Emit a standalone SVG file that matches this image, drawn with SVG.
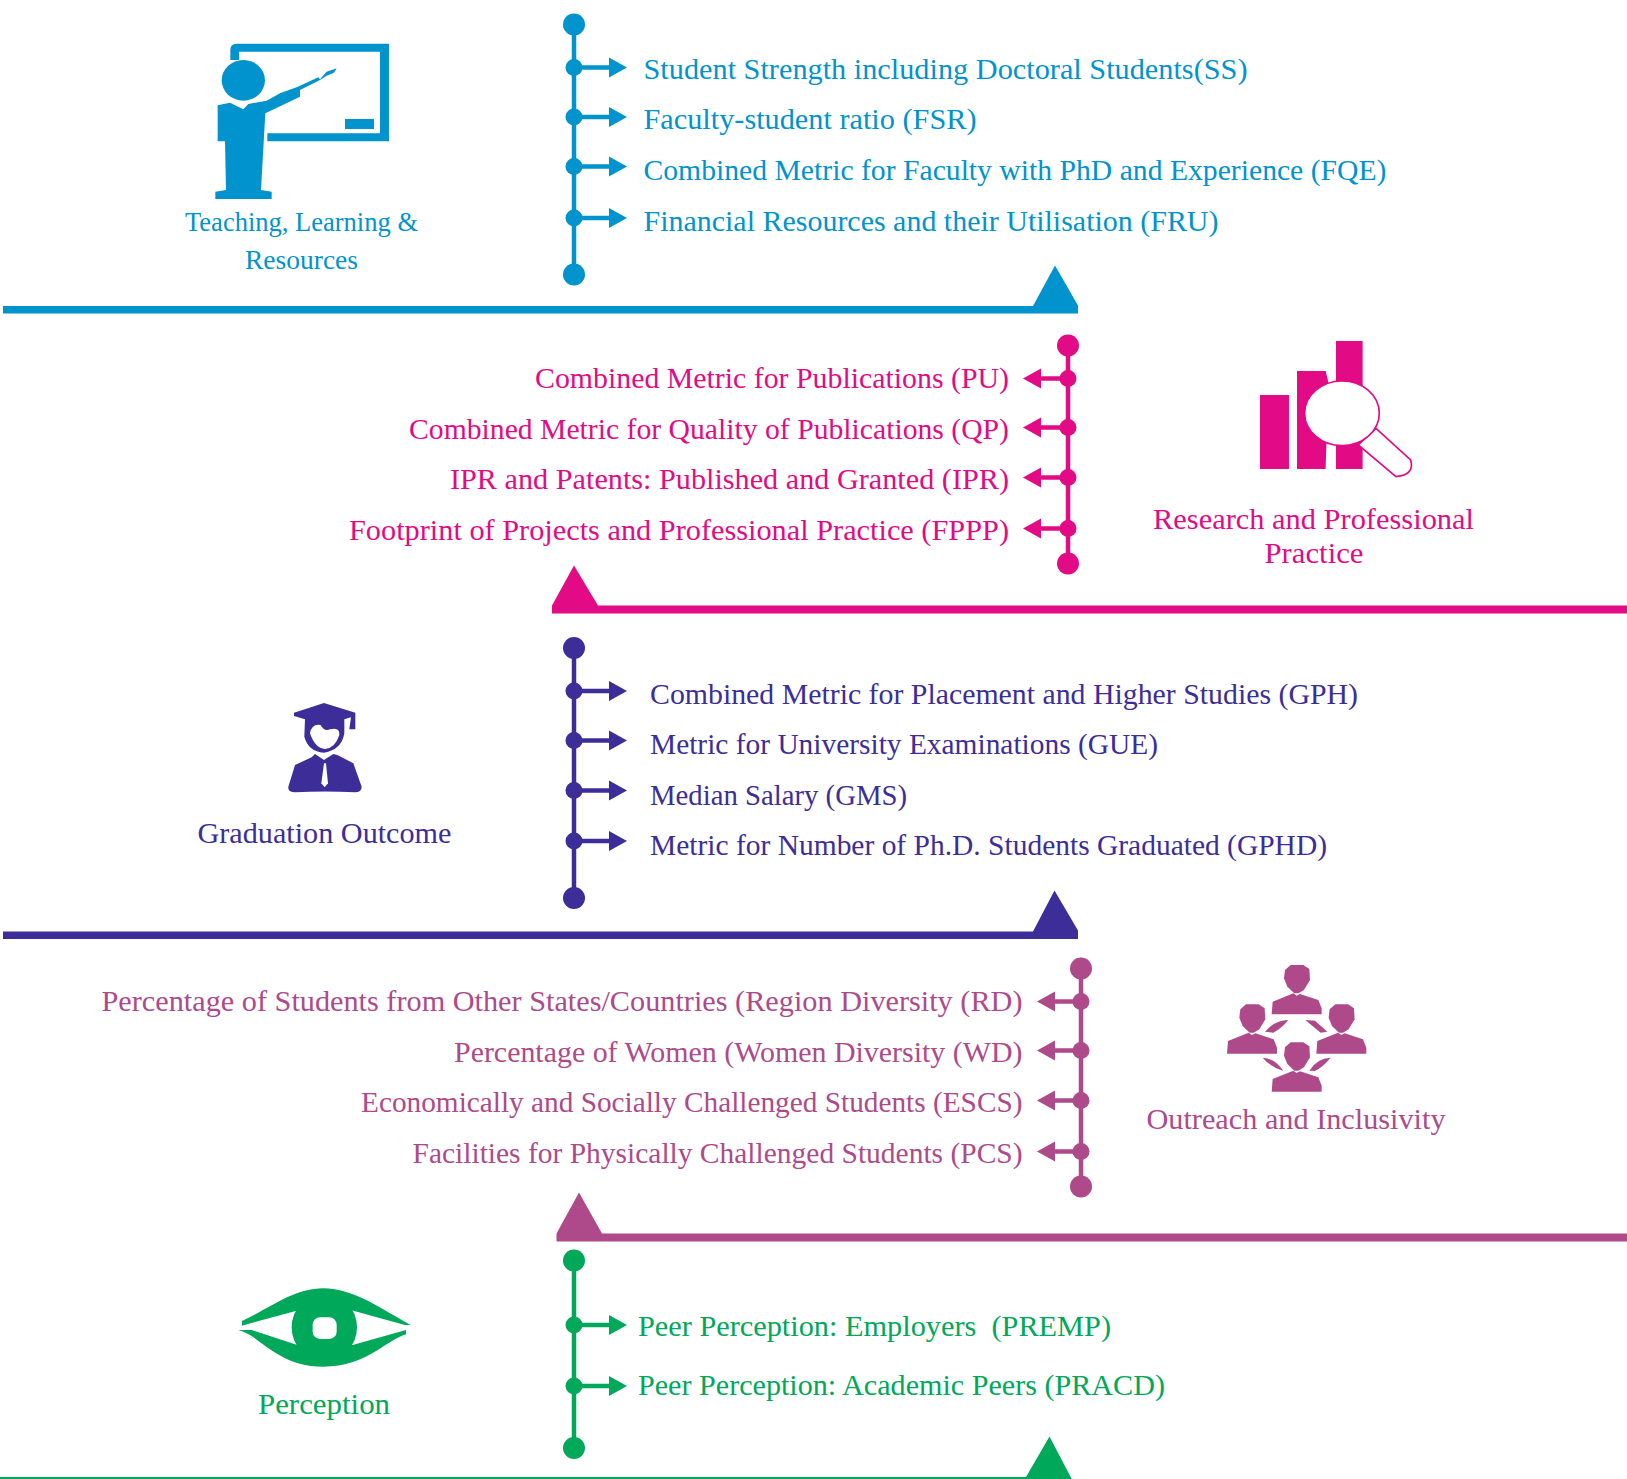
<svg xmlns="http://www.w3.org/2000/svg" xmlns:xlink="http://www.w3.org/1999/xlink" width="1627" height="1479" viewBox="0 0 1627 1479">
<style>
text{font-family:"Liberation Serif","Times New Roman",serif;font-size:29px;}
.lbl{font-size:27px;text-anchor:middle;}
.big{font-size:29px;}
.e{text-anchor:end;}
.blue{fill:#0093CE;stroke:#0093CE;}
.pink{fill:#E20B85;stroke:#E20B85;}
.purple{fill:#3C2D99;stroke:#3C2D99;}
.mauve{fill:#AE4A8A;stroke:#AE4A8A;}
.green{fill:#00A859;stroke:#00A859;}
g.blue *,g.pink *,g.purple *,g.mauve *,g.green *{stroke-width:0;}
line{stroke-width:4.5px !important;}
.w{fill:#fff;}
.ws{fill:#fff;stroke:#E20B85;stroke-width:5px !important;}
</style>
<defs>
<path id="ar" d="M0-10L18 0L0 10Z"/>
<path id="al" d="M0-10L-18 0L0 10Z"/>
<g id="person">
<path d="M272 60L310 60L328 72L330 105L312 135L295 145L283 145L262 125L252 100L255 75Z"/>
<path d="M215 208L218 170L280 145L290 152L300 147L355 165L365 190L365 208Z"/>
</g>
</defs>

<g id="connectors" transform="translate(0 .5)">
<g class="blue">
<line x1="574" y1="24" x2="574" y2="274"/>
<circle cx="574" cy="24" r="11"/><circle cx="574" cy="274" r="11"/>
<circle cx="574" cy="67" r="8.5"/><line x1="574" y1="67" x2="612" y2="67"/><use href="#ar" x="609" y="67"/>
<circle cx="574" cy="116.5" r="8.5"/><line x1="574" y1="116.5" x2="612" y2="116.5"/><use href="#ar" x="609" y="116.5"/>
<circle cx="574" cy="166" r="8.5"/><line x1="574" y1="166" x2="612" y2="166"/><use href="#ar" x="609" y="166"/>
<circle cx="574" cy="217.5" r="8.5"/><line x1="574" y1="217.5" x2="612" y2="217.5"/><use href="#ar" x="609" y="217.5"/>
<path d="M3 305.500H1033L1055 265L1078 305V313H3Z"/>
</g>
<g class="pink">
<line x1="1068" y1="345" x2="1068" y2="563"/>
<circle cx="1068" cy="345" r="11"/><circle cx="1068" cy="563" r="11"/>
<circle cx="1068" cy="378" r="8.5"/><line x1="1068" y1="378" x2="1038" y2="378"/><use href="#al" x="1041" y="378"/>
<circle cx="1068" cy="427" r="8.5"/><line x1="1068" y1="427" x2="1038" y2="427"/><use href="#al" x="1041" y="427"/>
<circle cx="1068" cy="477" r="8.5"/><line x1="1068" y1="477" x2="1038" y2="477"/><use href="#al" x="1041" y="477"/>
<circle cx="1068" cy="528" r="8.5"/><line x1="1068" y1="528" x2="1038" y2="528"/><use href="#al" x="1041" y="528"/>
<path d="M1627 605H598L574 565L552 605V613H1627Z"/>
</g>
<g class="purple">
<line x1="574" y1="647.5" x2="574" y2="897.5"/>
<circle cx="574" cy="647.5" r="11"/><circle cx="574" cy="897.5" r="11"/>
<circle cx="574" cy="690.5" r="8.5"/><line x1="574" y1="690.5" x2="612" y2="690.5"/><use href="#ar" x="609" y="690.5"/>
<circle cx="574" cy="740" r="8.5"/><line x1="574" y1="740" x2="612" y2="740"/><use href="#ar" x="609" y="740"/>
<circle cx="574" cy="790" r="8.5"/><line x1="574" y1="790" x2="612" y2="790"/><use href="#ar" x="609" y="790"/>
<circle cx="574" cy="840.5" r="8.5"/><line x1="574" y1="840.5" x2="612" y2="840.5"/><use href="#ar" x="609" y="840.5"/>
<path d="M3 931H1033L1054.500 890L1078 930V938.500H3Z"/>
</g>
<g class="mauve">
<line x1="1081" y1="968" x2="1081" y2="1186"/>
<circle cx="1081" cy="968" r="11"/><circle cx="1081" cy="1186" r="11"/>
<circle cx="1081" cy="1001" r="8.5"/><line x1="1081" y1="1001" x2="1052" y2="1001"/><use href="#al" x="1055" y="1001"/>
<circle cx="1081" cy="1050" r="8.5"/><line x1="1081" y1="1050" x2="1052" y2="1050"/><use href="#al" x="1055" y="1050"/>
<circle cx="1081" cy="1100" r="8.5"/><line x1="1081" y1="1100" x2="1052" y2="1100"/><use href="#al" x="1055" y="1100"/>
<circle cx="1081" cy="1151" r="8.5"/><line x1="1081" y1="1151" x2="1052" y2="1151"/><use href="#al" x="1055" y="1151"/>
<path d="M1627 1233H602L579 1192L556.500 1233V1241H1627Z"/>
</g>
<g class="green">
<line x1="574" y1="1260" x2="574" y2="1447"/>
<circle cx="574" cy="1260" r="11"/><circle cx="574" cy="1447.5" r="11"/>
<circle cx="574" cy="1324.5" r="8.5"/><line x1="574" y1="1324.5" x2="612" y2="1324.5"/><use href="#ar" x="609" y="1324.5"/>
<circle cx="574" cy="1385.5" r="8.5"/><line x1="574" y1="1385.5" x2="612" y2="1385.5"/><use href="#ar" x="609" y="1385.5"/>
<path d="M0 1476.500H1026L1049.500 1436L1072 1479H0Z"/>
</g>
</g>

<g id="node-teaching" class="blue">
<g transform="translate(180 0) scale(.3333)">
<path d="M151 180V150Q151 131 170 131H627V424H262V400H600V155H177V180Z"/>
<rect x="495" y="357" width="87" height="30"/>
<ellipse cx="190" cy="241" rx="65" ry="61"/>
<path d="M113 316L150 308L190 328L205 312L260 302L300 280L350 262L415 232L420 238L440 215L470 205L462 218L440 227L420 240L360 270L360 290L256 340L243 570L275 575V597H106V575L138 570L135 424H113Z"/>
</g>
<text class="lbl" x="301.500" y="231" textLength="233" lengthAdjust="spacingAndGlyphs">Teaching, Learning &amp;</text>
<text class="lbl" x="301.500" y="269" textLength="113" lengthAdjust="spacingAndGlyphs">Resources</text>
</g>
<g id="node-teaching-items" class="blue">
<text x="643.500" y="79" textLength="604" lengthAdjust="spacingAndGlyphs">Student Strength including Doctoral Students(SS)</text>
<text x="643.500" y="128.5" textLength="333" lengthAdjust="spacingAndGlyphs">Faculty-student ratio (FSR)</text>
<text x="643.500" y="180" textLength="743" lengthAdjust="spacingAndGlyphs">Combined Metric for Faculty with PhD and Experience (FQE)</text>
<text x="643.500" y="231" textLength="575" lengthAdjust="spacingAndGlyphs">Financial Resources and their Utilisation (FRU)</text>
</g>

<g id="node-research" class="pink">
<g transform="translate(1000 260) scale(.3333)">
<rect x="780" y="405" width="87" height="222"/>
<path d="M891 333H977L985 365L977 627H891Z"/>
<rect x="1008" y="243" width="80" height="384"/>
<path class="ws" d="M1128 505L1232 600Q1245 645 1188 650L1075 555Z"/>
<ellipse class="ws" cx="1026" cy="460" rx="112" ry="97"/>
</g>
<text class="lbl big" x="1313.5" y="528.5" textLength="321" lengthAdjust="spacingAndGlyphs">Research and Professional</text>
<text class="lbl big" x="1314" y="562.5" textLength="99" lengthAdjust="spacingAndGlyphs">Practice</text>
</g>
<g id="node-research-items" class="pink">
<text class="e" x="1009" y="388" textLength="474" lengthAdjust="spacingAndGlyphs">Combined Metric for Publications (PU)</text>
<text class="e" x="1009" y="439" textLength="600" lengthAdjust="spacingAndGlyphs">Combined Metric for Quality of Publications (QP)</text>
<text class="e" x="1009" y="488.5" textLength="559" lengthAdjust="spacingAndGlyphs">IPR and Patents: Published and Granted (IPR)</text>
<text class="e" x="1009" y="539.5" textLength="660" lengthAdjust="spacingAndGlyphs">Footprint of Projects and Professional Practice (FPPP)</text>
</g>

<g id="node-graduation" class="purple">
<g transform="translate(250 680) scale(.3333)">
<path d="M132 98L222 69L316 98V148H298L303 112L283 118V160Q275 210 222 218Q175 215 163 170L165 118L132 108Z"/>
<path class="w" d="M180 160Q185 130 212 135Q222 155 240 148Q270 140 268 165Q255 205 225 207Q195 205 180 160Z"/>
<path d="M115 320L135 255L185 232L195 222L222 240L250 222L262 225L310 250L335 320Q335 337 315 337Q225 332 135 337Q113 337 115 320Z"/>
<path class="w" d="M222 250L214 310L224 322L234 310L228 250Z"/>
</g>
<text class="lbl big" x="324.500" y="842.5" textLength="254" lengthAdjust="spacingAndGlyphs">Graduation Outcome</text>
</g>
<g id="node-graduation-items" class="purple">
<text x="650" y="703.5" textLength="708" lengthAdjust="spacingAndGlyphs">Combined Metric for Placement and Higher Studies (GPH)</text>
<text x="650" y="753.5" textLength="508" lengthAdjust="spacingAndGlyphs">Metric for University Examinations (GUE)</text>
<text x="650" y="805" textLength="257" lengthAdjust="spacingAndGlyphs">Median Salary (GMS)</text>
<text x="650" y="855" textLength="677" lengthAdjust="spacingAndGlyphs">Metric for Number of Ph.D. Students Graduated (GPHD)</text>
</g>

<g id="node-outreach" class="mauve">
<g transform="translate(1200 945) scale(.3333)">
<use href="#person"/>
<use href="#person" x="-134" y="118"/>
<use href="#person" x="134" y="118"/>
<use href="#person" y="232"/>
<path d="M195 260Q225 225 265 225Q245 250 220 263Z"/>
<path d="M316 225L345 227L382 260L362 263Z"/>
<path d="M188 338Q225 340 250 378Q210 365 188 338Z"/>
<path d="M328 377Q350 340 392 338Q370 365 345 378Z"/>
</g>
<text class="lbl big" x="1296" y="1129" textLength="299" lengthAdjust="spacingAndGlyphs">Outreach and Inclusivity</text>
</g>
<g id="node-outreach-items" class="mauve">
<text class="e" x="1022.500" y="1011" textLength="921" lengthAdjust="spacingAndGlyphs">Percentage of Students from Other States/Countries (Region Diversity (RD)</text>
<text class="e" x="1022.500" y="1061.5" textLength="568.500" lengthAdjust="spacingAndGlyphs">Percentage of Women (Women Diversity (WD)</text>
<text class="e" x="1022.500" y="1111.5" textLength="661.500" lengthAdjust="spacingAndGlyphs">Economically and Socially Challenged Students (ESCS)</text>
<text class="e" x="1022.500" y="1163" textLength="610" lengthAdjust="spacingAndGlyphs">Facilities for Physically Challenged Students (PCS)</text>
</g>

<g id="node-perception" class="green">
<g transform="translate(220 1270) scale(.3333)">
<path d="M66 153C150 115 220 55 310 55C400 55 480 115 572 165L555 165L400 122H230L66 167Z"/>
<path d="M55 180L95 180L232 225H398L558 180L558 193C490 215 440 290 310 290C170 290 120 195 55 180Z"/>
<ellipse cx="313" cy="172" rx="98" ry="102"/>
<rect class="w" x="278" y="142" width="72" height="65" rx="22"/>
</g>
<text class="lbl big" x="324" y="1414" textLength="132" lengthAdjust="spacingAndGlyphs">Perception</text>
</g>
<g id="node-perception-items" class="green">
<text x="638" y="1335.5" textLength="473" lengthAdjust="spacingAndGlyphs" xml:space="preserve">Peer Perception: Employers  (PREMP)</text>
<text x="638" y="1394.5" textLength="527" lengthAdjust="spacingAndGlyphs">Peer Perception: Academic Peers (PRACD)</text>
</g>
</svg>
